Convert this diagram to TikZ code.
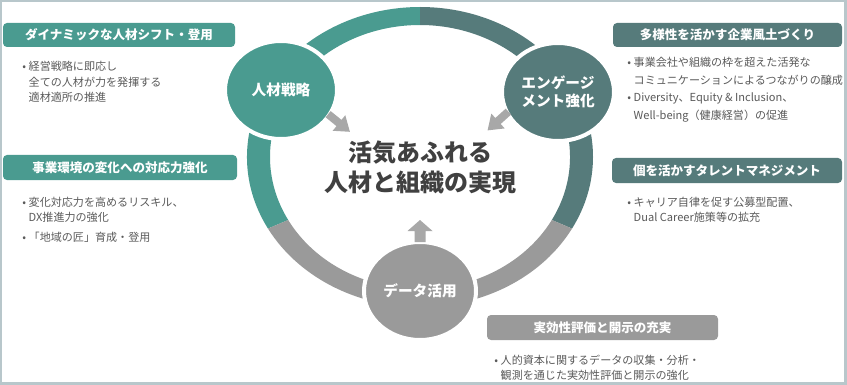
\documentclass[tikz,border=0pt]{standalone}
\usepackage{fontspec}
\setmainfont{Noto Sans CJK JP}
\definecolor{cteal}{HTML}{4A9B90}
\definecolor{cdark}{HTML}{567B7B}
\definecolor{cgrey}{HTML}{9A9A9A}
\definecolor{carrow}{HTML}{A8A8A8}
\definecolor{ctxt}{HTML}{5A5A5A}
\definecolor{cmain}{HTML}{404040}
\definecolor{cframe}{HTML}{B8C7CB}
\usetikzlibrary{shapes.geometric}
\newcommand{\ringseg}[3]{%
  \fill[#1] ({420+173*cos(#2)},{157+150*sin(#2)})
    arc[start angle=#2, end angle=#3, x radius=173, y radius=150]
    -- ({420+150*cos(#3)},{157+132*sin(#3)})
    arc[start angle=#3, end angle=#2, x radius=150, y radius=132] -- cycle;}
\newcommand{\bitem}[1]{\begin{tabular}[t]{@{}l@{\hspace{2pt}}l@{}}#1\end{tabular}}
\begin{document}
\begin{tikzpicture}[x=0.75pt,y=-0.75pt,
  banner/.style={rounded corners=3pt, inner sep=0pt, text=white,
    font=\fontsize{9.4}{11}\selectfont\bfseries},
  bubble/.style={ellipse, draw=white, line width=3pt, inner sep=0pt,
    minimum width=84pt, minimum height=73.5pt, text=white, align=center,
    font=\fontsize{11}{13.5}\selectfont\bfseries},
  bul/.style={anchor=base west, inner sep=0pt, text=ctxt,
    font=\fontsize{8.3}{11.6}\selectfont},
  bulwide/.style={bul, font=\fontsize{8.3}{12.9}\selectfont}]
% frame and background
\fill[cframe] (0,0) rectangle (847,385);
\fill[white] (2,2) rectangle (843.5,381.5);
\useasboundingbox (0,0) rectangle (847,385);
\coordinate (ringc) at (420,157);
% ring
\ringseg{cteal}{151.5}{270}
\ringseg{cdark}{270}{388.5}
\ringseg{cgrey}{28.5}{151.5}
% circles
\node[bubble, fill=cteal] (hr) at (281,90) {人材戦略};
\node[bubble, fill=cdark] (eng) at (558,92) {エンゲージ\\メント強化};
\node[bubble, fill=cgrey] (data) at (420,291) {データ活用};
% centre text
\node[text=cmain, align=center, font=\fontsize{18}{23}\selectfont\bfseries] (goal) at (420,167.5) {活気あふれる\\人材と組織の実現};
% block arrows
\fill[carrow, shift={(339,123)}, rotate=-39] (-14,-4) -- (0,-4) -- (0,-10) -- (14,0) -- (0,10) -- (0,4) -- (-14,4) -- cycle;
\fill[carrow, shift={(498,121)}, rotate=-138] (-14,-4) -- (0,-4) -- (0,-10) -- (14,0) -- (0,10) -- (0,4) -- (-14,4) -- cycle;
\fill[carrow, shift={(420,231)}, rotate=90] (-11,-5.5) -- (0,-5.5) -- (0,-12.5) -- (11,0) -- (0,12.5) -- (0,5.5) -- (-11,5.5) -- cycle;
% banners
\node[banner, fill=cteal, minimum width=174pt, minimum height=18pt] (b1) at (119,35) {ダイナミックな人材シフト・登用};
\node[banner, fill=cteal, minimum width=175.5pt, minimum height=18.75pt] (b2) at (120,167.5) {事業環境の変化への対応力強化};
\node[banner, fill=cdark, minimum width=171.75pt, minimum height=18pt] (b3) at (727.5,35) {多様性を活かす企業風土づくり};
\node[banner, fill=cdark, minimum width=172.5pt, minimum height=18.75pt] (b4) at (727,170.5) {個を活かすタレントマネジメント};
\node[banner, fill=cgrey, minimum width=173.25pt, minimum height=18.75pt] (b5) at (602.5,327.5) {実効性評価と開示の充実};
% bullet texts
\node[bul] (t1) at (22,71) {\bitem{•&経営戦略に即応し\\&全ての人材が力を発揮する\\&適材適所の推進}};
\node[bul] (t2) at (22,206) {\bitem{•&変化対応力を高めるリスキル、\\&DX推進力の強化}};
\node[bul] (t3) at (22,241) {\bitem{•&「地域の匠」育成・登用}};
\node[bulwide] (t4) at (627,67) {\bitem{•&事業会社や組織の枠を超えた活発な\\&コミュニケーションによるつながりの醸成}};
\node[bulwide] (t5) at (627,102) {\bitem{•&Diversity、Equity \& Inclusion、\\&Well-being（健康経営）の促進}};
\node[bul] (t6) at (627,206) {\bitem{•&キャリア自律を促す公募型配置、\\&Dual Career施策等の拡充}};
\node[bul] (t7) at (494,364) {\bitem{•&人的資本に関するデータの収集・分析・\\&観測を通じた実効性評価と開示の強化}};
\end{tikzpicture}
\end{document}
